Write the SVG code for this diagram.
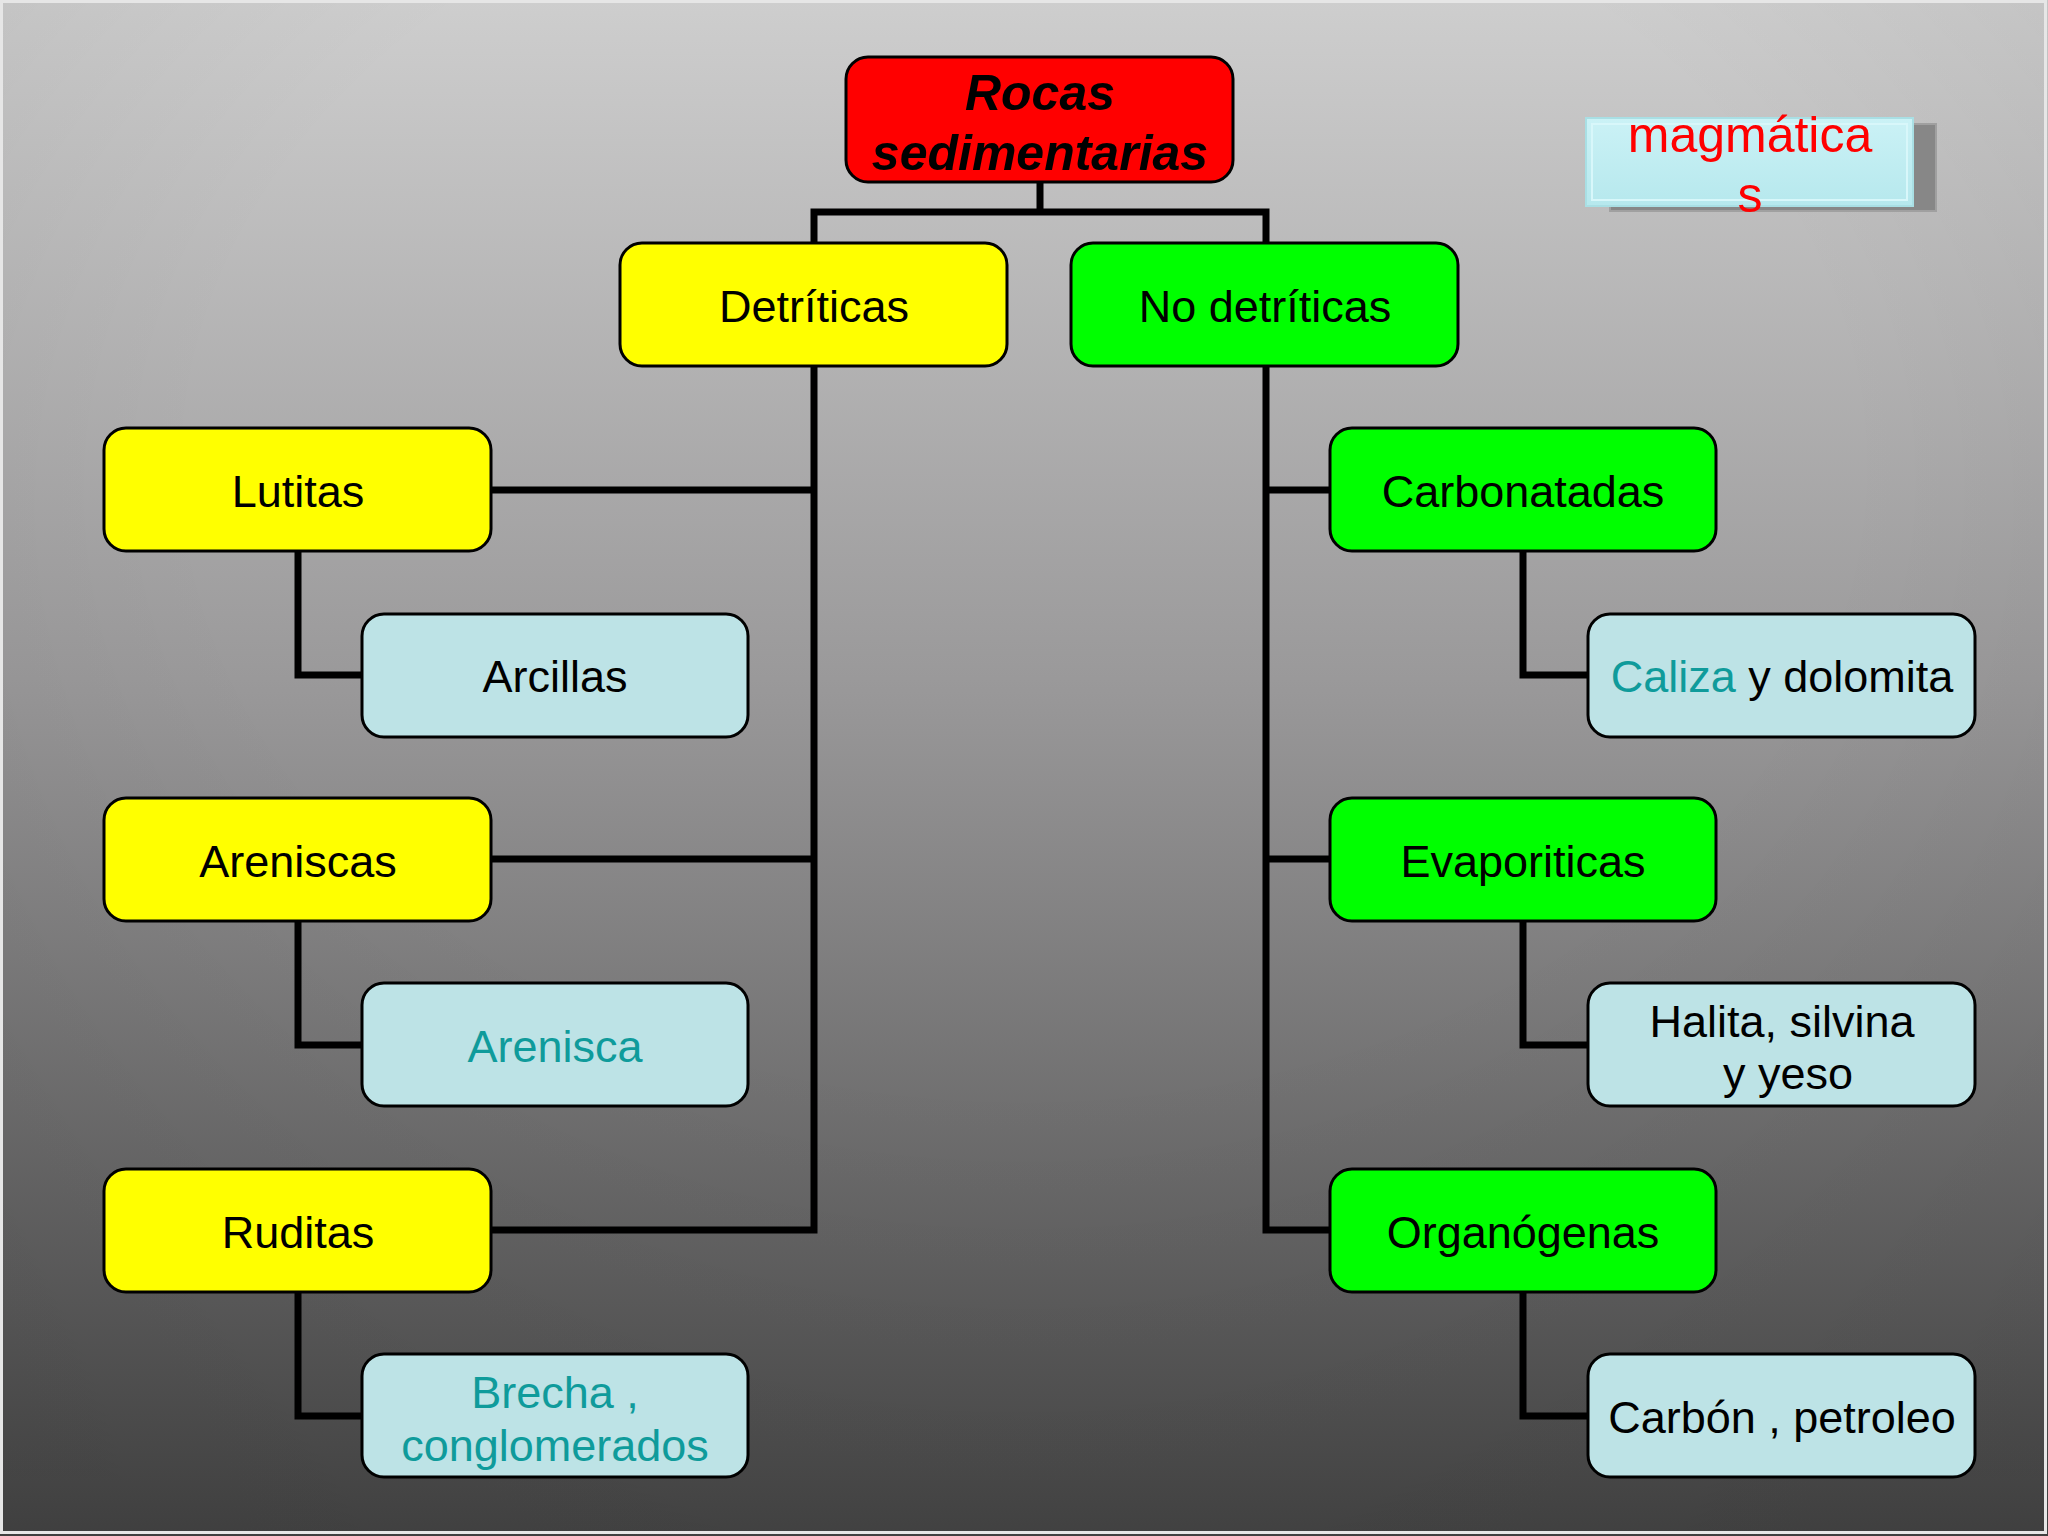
<svg xmlns="http://www.w3.org/2000/svg" width="2048" height="1536" viewBox="0 0 2048 1536">
<defs>
<linearGradient id="bg" x1="0" y1="0" x2="0" y2="1">
<stop offset="0" stop-color="#cecece"/>
<stop offset="0.45" stop-color="#999899"/>
<stop offset="1" stop-color="#464646"/>
</linearGradient>
<radialGradient id="vig" cx="0.5" cy="0.3" r="0.8">
<stop offset="0.5" stop-color="#000" stop-opacity="0"/>
<stop offset="1" stop-color="#000" stop-opacity="0.1"/>
</radialGradient>
<linearGradient id="mag" x1="0" y1="0" x2="0" y2="1">
<stop offset="0" stop-color="#cbf2f6"/>
<stop offset="1" stop-color="#b6e8ed"/>
</linearGradient>
<style>
.n rect{stroke:#000;stroke-width:3}
.y{fill:#ffff00}
.g{fill:#00ff00}
.r{fill:#ff0000}
.b{fill:#bde3e6}
text{font-family:"Liberation Sans",Arial,sans-serif;font-size:45px;text-anchor:middle;fill:#000}
.t{fill:#0f9b9b}
.h{font-weight:bold;font-style:italic;font-size:50px}
.m{fill:#ff0000;font-size:50px}
#edges path{fill:none;stroke:#000;stroke-width:7;stroke-linejoin:miter}
</style>
</defs>
<rect x="0" y="0" width="2048" height="1536" fill="url(#bg)"/>
<rect x="0" y="0" width="2048" height="1536" fill="url(#vig)"/>
<rect x="1.5" y="1.5" width="2044" height="1531" fill="none" stroke="#e6e6e6" stroke-width="3"/>

<g id="edges">
<path d="M1040,182 V212 M814,243 V212 H1266 V243"/>
<path d="M814,366 V1230 H491 M491,490 H814 M491,859 H814"/>
<path d="M1266,366 V1230 H1330 M1266,490 H1330 M1266,859 H1330"/>
<path d="M298,551 V675 H362"/>
<path d="M298,921 V1045 H362"/>
<path d="M298,1292 V1416 H362"/>
<path d="M1523,551 V675 H1588"/>
<path d="M1523,921 V1045 H1588"/>
<path d="M1523,1292 V1416 H1588"/>
</g>

<g id="root" class="n"><rect class="r" x="846" y="57" width="387" height="125" rx="22"/><text class="h" x="1040" y="110">Rocas</text><text class="h" x="1040" y="170">sedimentarias</text></g>
<g id="detriticas" class="n"><rect class="y" x="620" y="243" width="387" height="123" rx="22"/><text x="814" y="322">Detríticas</text></g>
<g id="nodetriticas" class="n"><rect class="g" x="1071" y="243" width="387" height="123" rx="22"/><text x="1265" y="322">No detríticas</text></g>

<g id="lutitas" class="n"><rect class="y" x="104" y="428" width="387" height="123" rx="22"/><text x="298" y="507">Lutitas</text></g>
<g id="arcillas" class="n"><rect class="b" x="362" y="614" width="386" height="123" rx="22"/><text x="555" y="692">Arcillas</text></g>
<g id="areniscas" class="n"><rect class="y" x="104" y="798" width="387" height="123" rx="22"/><text x="298" y="877">Areniscas</text></g>
<g id="arenisca" class="n"><rect class="b" x="362" y="983" width="386" height="123" rx="22"/><text class="t" x="555" y="1062">Arenisca</text></g>
<g id="ruditas" class="n"><rect class="y" x="104" y="1169" width="387" height="123" rx="22"/><text x="298" y="1248">Ruditas</text></g>
<g id="brecha" class="n"><rect class="b" x="362" y="1354" width="386" height="123" rx="22"/><text class="t" x="555" y="1408">Brecha ,</text><text class="t" x="555" y="1461">conglomerados</text></g>

<g id="carbonatadas" class="n"><rect class="g" x="1330" y="428" width="386" height="123" rx="22"/><text x="1523" y="507">Carbonatadas</text></g>
<g id="caliza" class="n"><rect class="b" x="1588" y="614" width="387" height="123" rx="22"/><text x="1782" y="692"><tspan class="t">Caliza</tspan> y dolomita</text></g>
<g id="evaporiticas" class="n"><rect class="g" x="1330" y="798" width="386" height="123" rx="22"/><text x="1523" y="877">Evaporiticas</text></g>
<g id="halita" class="n"><rect class="b" x="1588" y="983" width="387" height="123" rx="22"/><text x="1782" y="1037">Halita, silvina</text><text x="1788" y="1089">y yeso</text></g>
<g id="organogenas" class="n"><rect class="g" x="1330" y="1169" width="386" height="123" rx="22"/><text x="1523" y="1248">Organógenas</text></g>
<g id="carbon" class="n"><rect class="b" x="1588" y="1354" width="387" height="123" rx="22"/><text x="1782" y="1433">Carbón , petroleo</text></g>

<g id="magmaticas">
<rect x="1610" y="124" width="326" height="87" fill="#878787" stroke="#a0a0a0" stroke-width="2"/>
<rect x="1586" y="118" width="327" height="88" fill="url(#mag)" stroke="#a9dfe4" stroke-width="2"/>
<rect x="1592" y="124" width="315" height="76" fill="none" stroke="#d8f7fa" stroke-width="2"/>
<text class="m" x="1750" y="152">magmática</text>
<text class="m" x="1750" y="212">s</text>
</g>
</svg>
